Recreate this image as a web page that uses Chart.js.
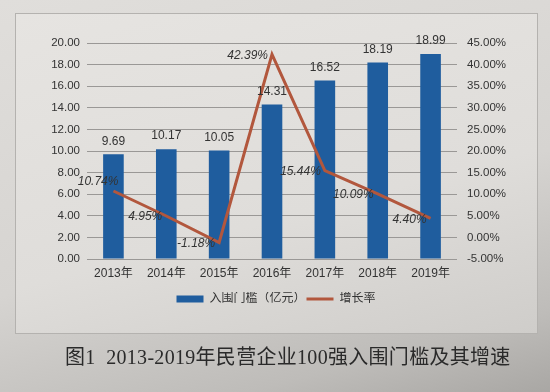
<!DOCTYPE html>
<html>
<head>
<meta charset="utf-8">
<script src="https://cdn.jsdelivr.net/npm/chart.js@4/dist/chart.umd.min.js"></script>
<style>
  html, body { margin: 0; padding: 0; }
  body {
    width: 550px; height: 392px; overflow: hidden; position: relative;
    background: linear-gradient(165deg, #e0dedb 0%, #d6d4d1 55%, #bebcb9 85%, #a9a7a4 100%);
  }
  #panel {
    position: absolute; left: 15px; top: 13px; width: 521px; height: 319px;
    border: 1px solid #b4b2af;
    background: linear-gradient(165deg, #e6e4e1 0%, #dfddda 60%, #cfcdca 100%);
  }
  #wrap { position: absolute; left: 0; top: 0; width: 550px; height: 392px; }
  #caption {
    position: absolute; left: 65px; top: 341px; white-space: nowrap;
    font-family: "Liberation Serif", "Noto Sans CJK SC", serif;
    font-size: 20px; color: #2a2a2a; letter-spacing: 0.3px;
  }
</style>
</head>
<body>
<div id="panel"></div>
<div id="wrap"><canvas id="c" width="550" height="392"></canvas></div>
<div id="caption">图1&nbsp; 2013-2019年民营企业100强入围门槛及其增速</div>
<script>
const categories = ['2013年', '2014年', '2015年', '2016年', '2017年', '2018年', '2019年'];
const thresholdValues = [9.69, 10.17, 10.05, 14.31, 16.52, 18.19, 18.99];
const growthRates = [10.74, 4.95, -1.18, 42.39, 15.44, 10.09, 4.40];
const seriesNames = ['入围门槛（亿元）', '增长率'];

const BAR_COLOR = '#1f5d9e';
const LINE_COLOR = '#b2573d';
const TEXT_COLOR = '#333333';
const FONT = '"Liberation Sans", "Noto Sans CJK SC", sans-serif';

const labelPlugin = {
  id: 'valueLabels',
  afterDatasetsDraw(chart) {
    const ctx = chart.ctx;
    ctx.save();
    const barMeta = chart.getDatasetMeta(0);
    ctx.font = '12px ' + FONT;
    ctx.fillStyle = TEXT_COLOR;
    ctx.textAlign = 'center';
    ctx.textBaseline = 'middle';
    barMeta.data.forEach((el, i) => {
      ctx.fillText(thresholdValues[i].toFixed(2), el.x, el.y - 13);
    });
    const lineMeta = chart.getDatasetMeta(1);
    ctx.font = 'italic 12px ' + FONT;
    ctx.textAlign = 'right';
    lineMeta.data.forEach((el, i) => {
      const t = growthRates[i].toFixed(2) + '%';
      if (i === 0) ctx.fillText(t, el.x + 5, el.y - 9);
      else ctx.fillText(t, el.x - 4, el.y + 1);
    });
    ctx.restore();
  }
};

new Chart(document.getElementById('c'), {
  data: {
    labels: categories,
    datasets: [
      {
        type: 'bar', label: seriesNames[0], data: thresholdValues,
        backgroundColor: BAR_COLOR, borderWidth: 0,
        categoryPercentage: 1, barPercentage: 0.39,
        yAxisID: 'y', order: 1
      },
      {
        type: 'line', label: seriesNames[1], data: growthRates,
        borderColor: LINE_COLOR, backgroundColor: LINE_COLOR, borderWidth: 3,
        pointRadius: 0, tension: 0, yAxisID: 'y1', order: 0
      }
    ]
  },
  options: {
    responsive: false, animation: false,
    layout: { padding: { left: 15, right: 13, top: 43, bottom: 77 } },
    plugins: {
      legend: {
        position: 'bottom',
        labels: {
          usePointStyle: true, pointStyleWidth: 27, boxHeight: 7,
          padding: 1, color: TEXT_COLOR,
          font: { size: 12, family: FONT },
          generateLabels(chart) {
            const items = Chart.defaults.plugins.legend.labels.generateLabels(chart);
            items.sort((a, b) => a.datasetIndex - b.datasetIndex);
            items.forEach(it => {
              if (it.datasetIndex === 0) {
                it.pointStyle = 'rect'; it.lineWidth = 0;
                it.fillStyle = BAR_COLOR; it.strokeStyle = BAR_COLOR;
              } else {
                it.pointStyle = 'line'; it.lineWidth = 3;
                it.strokeStyle = LINE_COLOR; it.fillStyle = LINE_COLOR;
              }
            });
            return items;
          }
        }
      },
      tooltip: { enabled: false }
    },
    scales: {
      x: {
        grid: { display: false, drawTicks: false }, border: { display: false },
        ticks: { color: TEXT_COLOR, font: { size: 12, family: FONT }, padding: 7 },
        afterFit(s) { s.height = 33; }
      },
      y: {
        position: 'left', min: 0, max: 20,
        ticks: { stepSize: 2, color: TEXT_COLOR, padding: 7,
          font: { size: 11.5, family: FONT }, callback: v => v.toFixed(2) },
        grid: { color: '#9a9896', lineWidth: 1, drawTicks: false },
        border: { display: false },
        afterFit(s) { s.width = 72; }
      },
      y1: {
        position: 'right', min: -5, max: 45,
        ticks: { stepSize: 5, color: TEXT_COLOR, padding: 10,
          font: { size: 11.5, family: FONT }, callback: v => v.toFixed(2) + '%' },
        grid: { display: false, drawTicks: false },
        border: { display: false },
        afterFit(s) { s.width = 80; }
      }
    }
  },
  plugins: [labelPlugin]
});
</script>
</body>
</html>
